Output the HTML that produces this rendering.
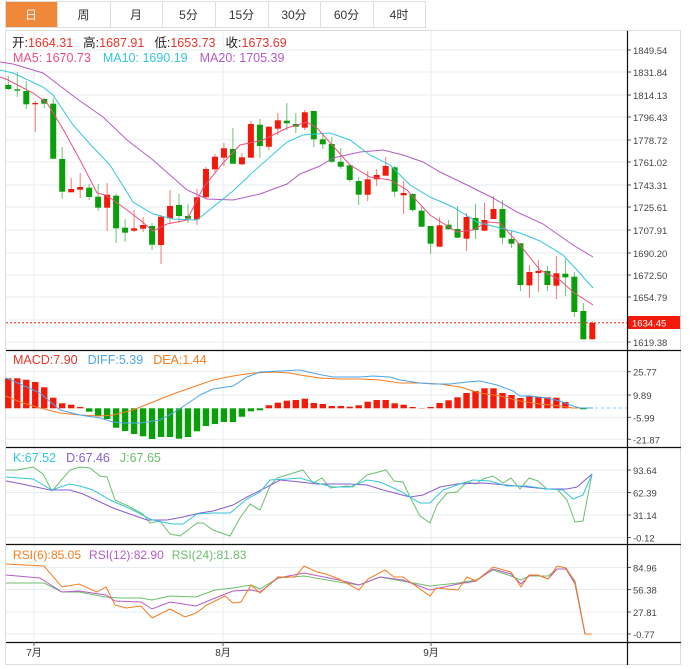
<!DOCTYPE html>
<html><head><meta charset="utf-8"><style>
html,body{margin:0;padding:0;background:#fff;width:690px;height:669px;overflow:hidden}
svg{display:block;font-family:"Liberation Sans","Noto Sans CJK SC",sans-serif}
</style></head><body>
<svg id="s" width="690" height="669" viewBox="0 0 690 669" xmlns="http://www.w3.org/2000/svg"></svg>
<script>
var o=[];
function P(a,c,w,extra){return '<polyline fill="none" stroke="'+c+'" stroke-width="'+(w||1)+'" '+(extra||'')+' points="'+a.map(function(p){return p.join(',')}).join(' ')+'"/>';}
function L(x1,y1,x2,y2,c,w,e){o.push('<line x1="'+x1+'" y1="'+y1+'" x2="'+x2+'" y2="'+y2+'" stroke="'+c+'" stroke-width="'+(w||1)+'" '+(e||'')+'/>');}
function T(x,y,t,c,s,a){o.push('<text x="'+x+'" y="'+y+'" fill="'+c+'" font-size="'+(s||11)+'"'+(a?' text-anchor="'+a+'"':'')+'>'+t+'</text>');}
var tabs=['日','周','月','5分','15分','30分','60分','4时'],tx=[5,57,110,162,215,268,320,373,425];
for(var i=0;i<8;i++){o.push('<rect x="'+tx[i]+'.5" y="1.5" width="'+(tx[i+1]-tx[i])+'" height="26" fill="'+(i==0?'#f0883a':'#fff')+'" stroke="#ddd"/>');T((tx[i]+tx[i+1])/2,19,tabs[i],i==0?'#fff':'#333',12,'middle');}
o.push('<rect x="5.5" y="30.5" width="675" height="634" fill="none" stroke="#ddd"/>');
var grey='#e6edf2';
var py=[50,72,95,117,140,162,185,207,230,253,275,297,320,342],pl=['1849.54','1831.84','1814.13','1796.43','1778.72','1761.02','1743.31','1725.61','1707.91','1690.20','1672.50','1654.79','','1619.38'];
py.forEach(function(y,i){L(6,y,627,y,grey);if(pl[i]){L(627,y,631,y,'#555');T(633,y+4,pl[i],'#444',9.5);}});
[[371.7,'25.77'],[395,'9.89'],[417.3,'-5.99'],[439.3,'-21.87'],[470,'93.64'],[492.5,'62.39'],[515,'31.14'],[537.5,'-0.12'],[567.5,'84.96'],[589.5,'56.38'],[612,'27.81'],[634,'-0.77']].forEach(function(a){L(6,a[0],627,a[0],grey);L(627,a[0],631,a[0],'#555');T(633,a[0]+4,a[1],'#444',9.5);});
[34,223,431].forEach(function(x){L(x,31,x,642,'#e6eef2');});
var C=[['g',85,89,76,90],['g',89.3,90.7,72,97],['g',91,104.3,81,109],['r',103,104,101,132],['g',99,103.7,98,108],['g',103.7,158.7,98,159],['g',159,191.7,147,198.7],['r',189,192.3,178,192.3],['r',187,189.7,173,198],['g',187.7,197,184,200],['g',196.7,207.7,184,211],['r',194.7,207.7,183,231],['g',195.7,228.3,194,243],['g',227.7,232.7,219,242],['r',228.3,230.7,210,232],['r',225,228.7,217,232],['g',226,244.7,223,250],['r',216.7,245,215,264],['r',206,218.3,190,223],['g',205,216,194,223],['g',216,218.7,204,223],['r',197.3,219.3,189,225],['r',169,197.3,167,197.3],['r',156.7,169.3,154,173],['r',148.3,157.7,143,166],['g',149,163.7,128,163.7],['r',157.3,164.3,153,165],['r',124,157.7,121,157.7],['g',124.7,146,119,158],['r',126.7,146.7,126,150],['r',120.3,128.7,113,135],['g',120.7,123.3,103,130],['g',124,126.7,113,133],['r',112.3,127.7,110,130],
['g',111,139.3,110.7,147],['g',139.3,144.3,134,149],['g',144,161.7,137,163],['g',161.7,166.7,148,169],['g',165.3,180,165,182],['g',181,194.7,177,205],['r',179.3,194.7,171,201],['r',175,179.3,169,186],['r',166,175.7,157,175.7],['g',167.3,191.7,166,197],['r',193,195.3,181,214],['g',194,210,193,212],['g',210.7,226.7,207,227],['g',226,243.7,226,254],['r',225.3,246.7,217,246.7],['g',224.7,229.3,220,229.3],['g',229,237.7,206,238],['r',217,238.7,213,251],['g',218,230,204,239],['r',220,230.7,203,230.7],['r',209,219,196,219],['g',209,237.7,200,244],['g',239,243.7,231,248],['g',243.3,285,243,291],['r',272,285.3,265,298],['r',271,273,260,292],['g',271,285,266,291],['r',273.3,285.7,256,299],['g',273.7,277.3,259,296],['g',276.7,312,272,317],['g',311,339.3,303,339.3],['r',323,339.3,321,339.3]];
function X(i){return 8.3+i*8.985;}
C.forEach(function(c,i){var x=X(i),col=c[0]=='r'?'#f21a0a':'#0a9e0a',wc=c[0]=='r'?'#f47a70':'#6cc46c';L(x,c[3],x,c[4],wc,1);o.push('<rect x="'+(x-3)+'" y="'+c[1]+'" width="6" height="'+Math.max(1.3,c[2]-c[1])+'" fill="'+col+'"/>');});
o.push(P([[0,62],[13,64],[43,73],[80,101],[103,117],[127,140],[153,160],[187,190],[207,199],[233,200],[260,194],[287,184],[300,174],[320,166],[333,158],[360,152],[383,150],[403,155],[423,162],[440,172],[467,185],[493,198],[517,212],[543,224],[573,245],[593,257]],'#b45cc8'));
o.push(P([[0,70],[13,73],[43,87],[53,95],[73,125],[90,144],[110,165],[133,202],[153,214],[173,219],[197,220],[213,207],[233,191],[253,172],[287,142],[303,135],[330,133],[350,140],[370,155],[390,165],[410,185],[430,197],[453,207],[477,222],[500,228],[520,233],[540,241],[563,255],[577,270],[593,288]],'#33c6dc'));
o.push(P([[0,77],[6,79],[33,93],[47,103],[63,129],[80,160],[97,193],[105,195],[113,200],[127,210],[140,220],[153,231],[167,224],[187,220],[203,188],[223,163],[240,145],[263,140],[287,128],[307,122],[317,128],[350,165],[370,177],[390,180],[407,190],[430,215],[457,232],[473,230],[487,222],[500,223],[520,245],[540,270],[560,280],[573,292],[593,305]],'#ec4f80'));
L(6,322.8,627,322.8,'#e22',1,'stroke-dasharray="2,2"');
o.push('<rect x="628" y="316" width="52" height="13" fill="#f21a0a"/>');T(632,326.5,'1634.45','#fff',9.5);
o.push('<text x="12" y="47" font-size="12.5"><tspan fill="#222">开:</tspan><tspan fill="#e8352a">1664.31</tspan><tspan fill="#222" dx="10">高:</tspan><tspan fill="#e8352a">1687.91</tspan><tspan fill="#222" dx="10">低:</tspan><tspan fill="#e8352a">1653.73</tspan><tspan fill="#222" dx="10">收:</tspan><tspan fill="#e8352a">1673.69</tspan></text>');
o.push('<text x="13" y="62" font-size="12.5"><tspan fill="#ec4f80">MA5: 1670.73</tspan><tspan fill="#33c6dc" dx="12">MA10: 1690.19</tspan><tspan fill="#b45cc8" dx="12">MA20: 1705.39</tspan></text>');
var M=[378.3,378.3,379.7,382,387.3,397.7,403.3,404.7,407,411.7,416.3,419,427.7,431,434,436.3,439,437,437,438.7,437,431.3,426,424,422,422,416.7,411.3,410.3,405.3,402.7,400.7,400,398.7,403,404,406,406,406.7,405.3,401.7,400,400,403.3,404.7,407,408,407,403,400.3,397.3,393,391,388.3,388.3,393,395,398,396,396.7,397.3,397.7,402,408,409.3,408.3];
var z=408.3;
M.forEach(function(v,i){var x=X(i);if(Math.abs(v-z)<0.3)return;var up=v<z;o.push('<rect x="'+(x-3.2)+'" y="'+Math.min(v,z)+'" width="6.4" height="'+Math.abs(v-z)+'" fill="'+(up?'#f21a0a':'#0a9e0a')+'"/>');});
L(595,408,627,408,'#8cc8f0',1,'stroke-dasharray="3,3"');
o.push(P([[6,396],[20,402],[40,408],[60,413],[80,415],[100,416],[113,415],[133,410],[153,402],[173,394],[193,387],[213,380],[233,376],[253,373],[273,372],[290,373],[300,375],[320,378],[340,379],[360,379],[380,380],[400,383],[420,383],[440,384],[460,387],[480,393],[500,396],[520,401],[540,404],[560,406],[573,408],[593,408]],'#f57c1f'));
o.push(P([[6,378],[20,384],[40,393],[60,410],[80,415],[100,418],[113,422],[123,423],[140,423],[160,420],[173,413],[187,404],[200,395],[213,389],[233,386],[247,377],[260,372],[280,371],[300,370],[317,374],[333,377],[360,377],[373,376],[390,377],[400,380],[420,383],[433,384],[450,384],[467,382],[480,381],[497,385],[513,391],[520,396],[530,396],[547,398],[560,401],[573,406],[580,408],[593,408]],'#4aa6ee'));
o.push('<text x="13" y="364" font-size="12.5"><tspan fill="#e8352a">MACD:7.90</tspan><tspan fill="#4aa6ee" dx="10">DIFF:5.39</tspan><tspan fill="#f57c1f" dx="10">DEA:1.44</tspan></text>');
o.push(P([[6,470],[17,470],[33,467],[43,474],[52,491],[70,470],[80,467],[90,468],[100,476],[107,477],[115,500],[130,507],[143,514],[150,523],[160,521],[170,534],[180,536],[197,523],[203,523],[213,530],[230,536],[240,518],[250,504],[260,510],[270,486],[277,478],[303,470],[313,483],[322,478],[330,488],[347,486],[353,487],[367,475],[386,470],[394,481],[403,482],[410,497],[420,516],[430,523],[437,505],[447,493],[457,492],[467,482],[476,484],[483,479],[493,476],[503,483],[511,478],[520,489],[529,478],[538,481],[547,489],[557,489],[567,500],[575,522],[583,521],[592,474]],'#6cbf6c'));
o.push(P([[6,481],[17,483],[50,490],[70,490],[83,494],[113,508],[147,520],[167,520],[183,517],[200,513],[213,511],[233,505],[247,497],[267,487],[280,480],[300,482],[317,484],[350,484],[367,485],[383,490],[410,497],[423,495],[440,487],[457,484],[483,483],[517,486],[547,489],[567,489],[577,487],[592,474]],'#8a5cd0'));
o.push(P([[6,477],[33,479],[52,490],[69,484],[80,486],[93,490],[110,500],[117,503],[133,510],[150,519],[157,521],[173,524],[183,524],[197,514],[213,513],[230,513],[247,499],[260,492],[270,480],[287,479],[300,478],[313,482],[333,487],[350,487],[367,480],[380,482],[400,491],[420,503],[430,503],[443,490],[460,484],[473,480],[490,481],[507,486],[527,486],[547,489],[563,490],[573,499],[583,495],[592,474]],'#33c6dc'));
o.push('<text x="13" y="462" font-size="12.5"><tspan fill="#33c6dc">K:67.52</tspan><tspan fill="#8a5cd0" dx="10">D:67.46</tspan><tspan fill="#6cbf6c" dx="10">J:67.65</tspan></text>');
o.push(P([[6,583],[44,583],[62,592],[79,592],[106,597],[120,598],[141,598],[152,600],[170,596],[196,597],[215,590],[233,588],[251,585],[260,589],[278,578],[304,576],[339,582],[359,585],[380,577],[430,586],[458,583],[476,580],[493,570],[511,576],[521,580],[529,576],[548,576],[557,569],[566,569],[575,581],[585,634],[592,634]],'#6cbf6c'));
o.push(P([[6,575],[40,578],[62,592],[79,591],[106,595],[115,601],[141,602],[152,609],[170,602],[196,606],[215,598],[233,591],[251,590],[260,592],[278,578],[304,573],[339,580],[359,585],[380,577],[403,580],[430,590],[458,584],[476,581],[493,569],[511,574],[521,584],[529,576],[538,575],[548,579],[557,569],[566,569],[575,584],[585,634]],'#b45cc8'));
o.push(P([[6,564],[44,566],[62,587],[79,584],[97,592],[106,587],[115,605],[126,608],[141,606],[152,618],[170,609],[185,617],[196,613],[207,605],[225,596],[233,603],[241,602],[251,585],[260,593],[278,577],[295,577],[304,566],[317,572],[326,574],[339,579],[359,590],[368,579],[385,570],[394,577],[403,577],[430,596],[436,588],[458,590],[467,577],[476,581],[493,567],[511,572],[521,587],[529,575],[538,575],[548,579],[557,566],[566,568],[575,582],[585,634],[592,634]],'#f57c1f'));
o.push('<text x="13" y="559" font-size="12"><tspan fill="#f57c1f">RSI(6):85.05</tspan><tspan fill="#b45cc8" dx="8">RSI(12):82.90</tspan><tspan fill="#6cbf6c" dx="8">RSI(24):81.83</tspan></text>');
[350.5,447.5,544.5,642.5].forEach(function(y){L(6,y,681,y,'#111',1.2);});
L(627.5,31,627.5,665,'#111',1.2);
[[34,'7月'],[223,'8月'],[431,'9月']].forEach(function(a){L(a[0],642,a[0],646,'#555');T(a[0],656,a[1],'#333',10,'middle');});
document.getElementById('s').innerHTML=o.join('');
</script>
</body></html>
